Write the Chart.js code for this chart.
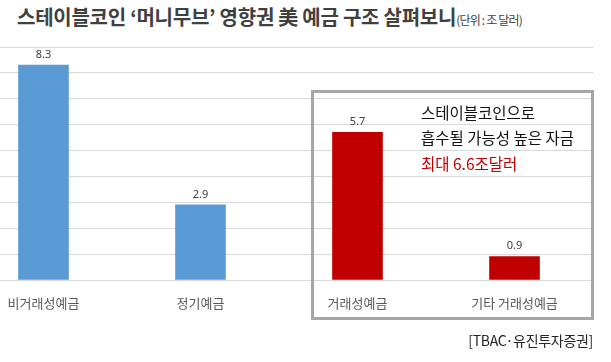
<!DOCTYPE html>
<html>
<head>
<meta charset="utf-8">
<script src="https://cdn.jsdelivr.net/npm/chart.js@4"></script>
<style>
  html, body { margin: 0; padding: 0; background: #fff; overflow: hidden; }
  body { width: 611px; height: 362px; position: relative; font-family: "Noto Sans CJK KR", "Noto Sans", sans-serif; }
  #wrap { position: absolute; left: -35px; top: 0; width: 628px; height: 362px; }
  #title { position: absolute; left: 17px; top: 2px; font-size: 20px; font-weight: bold; color: #404040; white-space: nowrap; letter-spacing: -0.25px; }
  #title small { font-size: 12px; font-weight: normal; letter-spacing: -0.8px; }
  #box { position: absolute; left: 311px; top: 90px; width: 277px; height: 224px; border: 3px solid #a6a6a6; }
  .note { position: absolute; left: 421px; font-size: 15.5px; color: #111; white-space: nowrap; line-height: 1; }
  #source { position: absolute; right: 18px; top: 330px; font-size: 14px; color: #262626; letter-spacing: -0.3px; }
</style>
</head>
<body>
<div id="title">스테이블코인 ‘머니무브’ 영향권 美 예금 구조 살펴보니<small>(단위 : 조 달러)</small></div>
<div id="wrap"><canvas id="chart"></canvas></div>
<div id="box"></div>
<div class="note" style="top:105px">스테이블코인으로</div>
<div class="note" style="top:130px">흡수될 가능성 높은 자금</div>
<div class="note" style="top:156px;color:#c00000">최대 6.6조달러</div>
<div id="source">[TBAC·유진투자증권]</div>
<script>
const categories = ['비거래성예금', '정기예금', '거래성예금', '기타 거래성예금'];
const values     = [8.3, 2.9, 5.7, 0.9];
const barColors  = ['#5b9bd5', '#5b9bd5', '#c00000', '#c00000'];
const yTicks     = [0, 1, 2, 3, 4, 5, 6, 7, 8, 9];

const valueLabels = {
  id: 'valueLabels',
  afterDatasetsDraw(chart) {
    const ctx = chart.ctx;
    ctx.save();
    ctx.font = '11px "Noto Sans", sans-serif';
    ctx.fillStyle = '#404040';
    ctx.textAlign = 'center';
    ctx.textBaseline = 'bottom';
    chart.getDatasetMeta(0).data.forEach((bar, i) => {
      ctx.fillText(values[i].toFixed(1), bar.x, bar.y - 5);
    });
    ctx.restore();
  }
};

new Chart(document.getElementById('chart'), {
  type: 'bar',
  data: {
    labels: categories,
    datasets: [{ data: values, backgroundColor: barColors, barThickness: 50 }],
  },
  options: {
    responsive: true,
    maintainAspectRatio: false,
    animation: false,
    layout: { padding: { top: 47, left: 0, right: 0, bottom: 0 } },
    plugins: { legend: { display: false }, tooltip: { enabled: false } },
    scales: {
      x: {
        grid: { display: false },
        border: { color: '#d9d9d9', width: 1 },
        ticks: { color: '#595959', font: { size: 13, family: '"Noto Sans CJK KR"' }, padding: 7 },
        afterFit: s => { s.height = 82; },
      },
      y: {
        display: true,
        min: yTicks[0],
        max: yTicks[yTicks.length - 1],
        afterBuildTicks: s => { s.ticks = yTicks.map(v => ({ value: v })); },
        ticks: { display: false },
        grid: { color: '#d9d9d9', drawTicks: false },
        border: { display: false },
        afterFit: s => { s.width = 0; },
      },
    },
  },
  plugins: [valueLabels],
});
</script>
</body>
</html>
